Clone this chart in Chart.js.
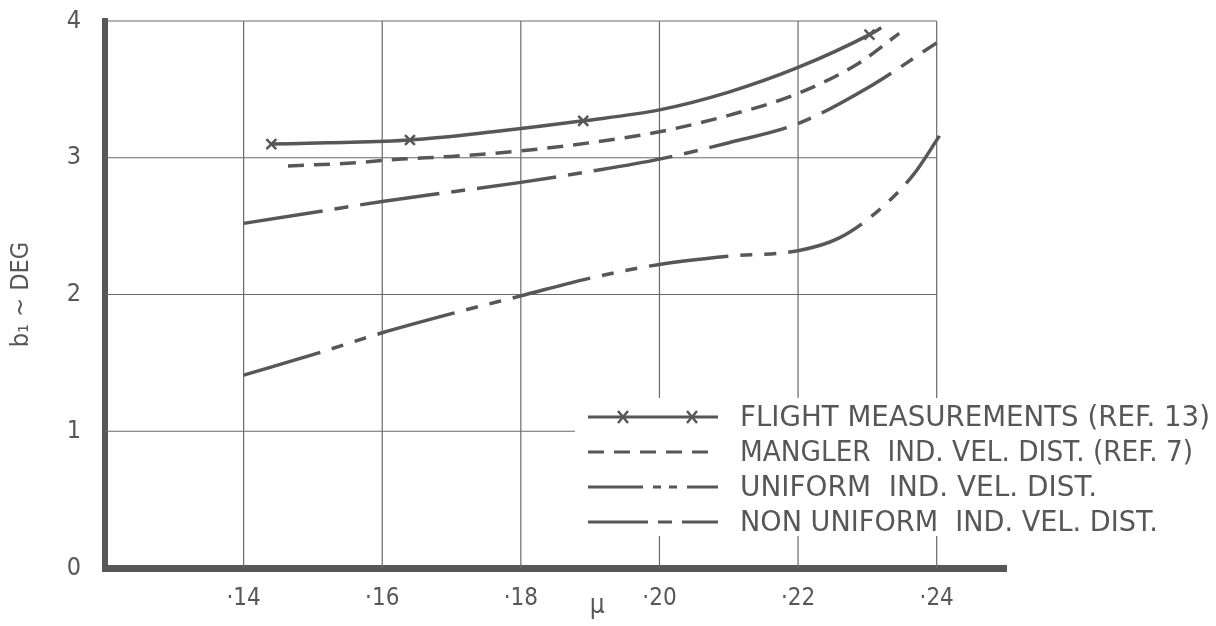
<!DOCTYPE html>
<html>
<head>
<meta charset="utf-8">
<script src="https://cdn.jsdelivr.net/npm/chart.js@4/dist/chart.umd.min.js"></script>
<style>
  html, body { margin: 0; background: #fff; }
</style>
</head>
<body>
<canvas id="chart" width="1216" height="626"></canvas>
<script>
// axis ticks
const X_TICKS = [0.14, 0.16, 0.18, 0.20, 0.22, 0.24];
const Y_TICKS = [0, 1, 2, 3, 4];

// flight measurements (ref. 13): faired curve and measured points
const flightX = [0.144, 0.152, 0.164, 0.176, 0.189, 0.200, 0.210, 0.220, 0.2303, 0.232];
const flightY = [3.10, 3.11, 3.13, 3.19, 3.27, 3.35, 3.48, 3.66, 3.90, 3.95];
const measX = [0.144, 0.164, 0.189, 0.2303];
const measY = [3.10, 3.13, 3.27, 3.90];

// Mangler induced velocity distribution (ref. 7)
const manglerX = [0.1464, 0.155, 0.1628, 0.170, 0.180, 0.190, 0.200, 0.210, 0.220, 0.2287, 0.2346];
const manglerY = [2.94, 2.96, 2.99, 3.01, 3.05, 3.11, 3.19, 3.31, 3.47, 3.69, 3.91];

// uniform induced velocity distribution
const uniformX = [0.140, 0.150, 0.160, 0.170, 0.180, 0.190, 0.200, 0.210, 0.220, 0.2258, 0.2315, 0.2367, 0.2404];
const uniformY = [1.41, 1.56, 1.72, 1.86, 1.99, 2.12, 2.22, 2.28, 2.32, 2.41, 2.61, 2.88, 3.16];

// non uniform induced velocity distribution
const nonUniformX = [0.140, 0.150, 0.160, 0.170, 0.180, 0.190, 0.200, 0.210, 0.220, 0.230, 0.240];
const nonUniformY = [2.52, 2.60, 2.68, 2.75, 2.82, 2.90, 2.99, 3.11, 3.25, 3.51, 3.84];

const LEGEND_LABELS = [
    'FLIGHT MEASUREMENTS (REF. 13)',
    'MANGLER  IND. VEL. DIST. (REF. 7)',
    'UNIFORM  IND. VEL. DIST.',
    'NON UNIFORM  IND. VEL. DIST.'
];

const INK = '#575757';
const FONT = '"DejaVu Sans Condensed", "DejaVu Sans", sans-serif';
const DASH_MANGLER = [16, 10];
const DASH_UNIFORM = [80, 12, 12, 12, 12, 12];
const DASH_NONUNIFORM = [80, 12, 14, 12];

const pts = (xs, ys) => xs.map((x, i) => ({ x: x, y: ys[i] }));

const curve = (label, xs, ys, dash) => ({
    label: label,
    data: pts(xs, ys),
    borderColor: INK,
    borderWidth: 3.5,
    borderDash: dash,
    pointRadius: 0,
    tension: 0.4,
    cubicInterpolationMode: 'monotone',
    fill: false
});

// grid stops at .24, and a white patch keeps the legend clear
const gridPlugin = {
    id: 'grid',
    beforeDatasetsDraw(chart) {
        const { ctx, scales: { x, y } } = chart;
        ctx.save();
        ctx.strokeStyle = '#6a6a6a';
        ctx.lineWidth = 1.2;
        ctx.beginPath();
        X_TICKS.forEach(v => {
            ctx.moveTo(x.getPixelForValue(v), y.getPixelForValue(0));
            ctx.lineTo(x.getPixelForValue(v), y.getPixelForValue(4));
        });
        Y_TICKS.slice(1).forEach(v => {
            ctx.moveTo(x.getPixelForValue(0.12), y.getPixelForValue(v));
            ctx.lineTo(x.getPixelForValue(0.24), y.getPixelForValue(v));
        });
        ctx.stroke();
        ctx.fillStyle = '#fff';
        ctx.fillRect(575, 398, 641, 138);
        ctx.restore();
    },
    afterDraw(chart) {
        const { ctx, scales: { x } } = chart;
        ctx.save();
        ctx.fillStyle = INK;
        ctx.font = '26px ' + FONT;
        ctx.textAlign = 'center';
        ctx.textBaseline = 'middle';
        ctx.fillText('\u03bc', x.getPixelForValue(0.191), 606);

        // legend
        const rows = [417, 452, 487, 522];
        const dashes = [[], DASH_MANGLER, [55, 10, 8, 8, 8, 10], [60, 10, 14, 10]];
        const widths = [470, 453, 357, 418];
        ctx.strokeStyle = INK;
        ctx.lineWidth = 3;
        rows.forEach((ry, i) => {
            ctx.setLineDash(dashes[i]);
            ctx.beginPath();
            ctx.moveTo(588, ry);
            ctx.lineTo(718, ry);
            ctx.stroke();
        });
        ctx.setLineDash([]);
        ctx.lineWidth = 2.5;
        [623, 692].forEach(mx => {
            ctx.beginPath();
            ctx.moveTo(mx - 5, rows[0] - 6);
            ctx.lineTo(mx + 5, rows[0] + 6);
            ctx.moveTo(mx + 5, rows[0] - 6);
            ctx.lineTo(mx - 5, rows[0] + 6);
            ctx.stroke();
        });
        ctx.textAlign = 'left';
        ctx.font = '29px "DejaVu Sans", sans-serif';
        LEGEND_LABELS.forEach((t, i) => ctx.fillText(t, 740, rows[i] + 1, widths[i]));
        ctx.restore();
    }
};

new Chart(document.getElementById('chart'), {
    type: 'line',
    data: {
        datasets: [
            curve('FLIGHT MEASUREMENTS (REF. 13)', flightX, flightY, []),
            {
                label: 'measured',
                data: pts(measX, measY),
                showLine: false,
                pointStyle: 'crossRot',
                pointRadius: 7,
                pointBorderWidth: 2.5,
                borderColor: INK,
                backgroundColor: INK
            },
            curve('MANGLER IND. VEL. DIST. (REF. 7)', manglerX, manglerY, DASH_MANGLER),
            curve('UNIFORM IND. VEL. DIST.', uniformX, uniformY, DASH_UNIFORM),
            curve('NON UNIFORM IND. VEL. DIST.', nonUniformX, nonUniformY, DASH_NONUNIFORM)
        ]
    },
    options: {
        responsive: false,
        animation: false,
        layout: { padding: { top: 21, right: 210, left: 0, bottom: 0 } },
        plugins: {
            legend: { display: false },
            tooltip: { enabled: false }
        },
        scales: {
            x: {
                type: 'linear',
                min: 0.12,
                max: 0.25,
                afterBuildTicks: scale => { scale.ticks = X_TICKS.map(v => ({ value: v })); },
                afterFit: scale => { scale.height = 58; },
                ticks: {
                    padding: 16,
                    color: INK,
                    font: { family: FONT, size: 24 },
                    callback: v => '\u00b7' + Math.round(v * 100)
                },
                grid: { display: false, drawTicks: false },
                border: { display: true, color: INK, width: 7 }
            },
            y: {
                min: 0,
                max: 4,
                afterBuildTicks: scale => { scale.ticks = Y_TICKS.map(v => ({ value: v })); },
                afterFit: scale => {
                    scale.width = 105;
                    scale.paddingTop = 0;
                    scale.paddingBottom = 0;
                },
                ticks: {
                    padding: 24,
                    color: INK,
                    font: { family: FONT, size: 25 }
                },
                grid: { display: false, drawTicks: false },
                border: { display: true, color: INK, width: 6 },
                title: {
                    display: true,
                    text: 'b\u2081 ~ DEG',
                    color: INK,
                    font: { family: FONT, size: 25 },
                    padding: { top: 6, bottom: 0 }
                }
            }
        }
    },
    plugins: [gridPlugin]
});
</script>
</body>
</html>
